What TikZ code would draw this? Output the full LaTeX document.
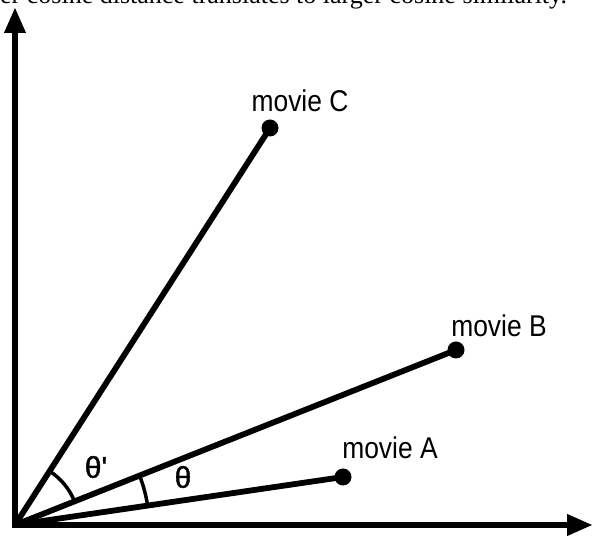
\documentclass[tikz,border=0pt]{standalone}
\usepackage{fontspec}
\setmainfont{Liberation Serif}
\newfontfamily\labfont[FakeStretch=0.88]{Liberation Sans}
\newfontfamily\thfont[FakeBold=1.2]{Liberation Sans}
\usetikzlibrary{arrows.meta}
\begin{document}
\begin{tikzpicture}[x=1pt,y=1pt,
  axis/.style={line width=6.5pt,line join=miter,{Triangle[length=26pt,width=20pt]}-{Triangle[length=26pt,width=20pt]}},
  vec/.style={line width=5.8pt},
  dot/.style={circle,fill=black,inner sep=0pt,minimum size=17pt},
  lab/.style={font=\labfont\fontsize{30}{30}\selectfont,inner sep=0pt},
  thlab/.style={font=\thfont\fontsize{30}{30}\selectfont,inner sep=0pt},
  ang/.style={line width=3.5pt}]
\useasboundingbox (0,0) rectangle (592,538);
\clip (0,0) rectangle (592,538);
\node[anchor=base west,font=\fontsize{26}{26}\selectfont,inner sep=0pt] (title) at (0,534) {er cosine distance translates to larger cosine similarity.};
\coordinate (O) at (15,13);
\coordinate (ytip) at (15,531);
\coordinate (xtip) at (593,13);
\draw[axis] (ytip) -- (O) -- (xtip);
\node[dot] (A) at (343,61) {};
\node[dot] (B) at (456,188) {};
\node[dot] (C) at (270,410) {};
\draw[vec] (O) -- (A.center);
\draw[vec] (O) -- (B.center);
\draw[vec] (O) -- (C.center);
\node[lab] (lA) at (390,90) {movie A};
\node[lab] (lB) at (499,212) {movie B};
\node[lab] (lC) at (300,437) {movie C};
\draw[ang] ([shift={(21.6:64)}]O) arc[start angle=21.6,end angle=57.3,radius=64];
\draw[ang] ([shift={(8.3:134)}]O) arc[start angle=8.3,end angle=21.6,radius=134];
\node[thlab] (t1) at (96,71) {θ'};
\node[thlab] (t2) at (183,61) {θ};
\end{tikzpicture}
\end{document}
